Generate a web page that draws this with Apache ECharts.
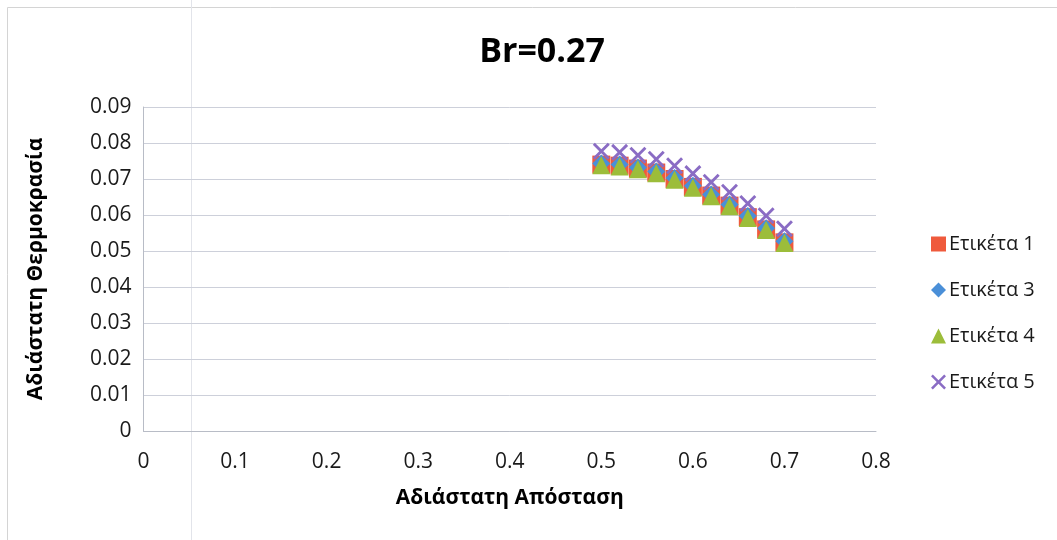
<!DOCTYPE html>
<html>
<head>
<meta charset="utf-8">
<title>Br=0.27</title>
<script src="https://cdn.jsdelivr.net/npm/echarts@6/dist/echarts.min.js"></script>
<style>
  html, body { margin: 0; padding: 0; background: #fff; }
  #chart { width: 1057px; height: 540px; }
</style>
</head>
<body>
<div id="chart"></div>
<script>
// Dimensionless distance (x) and the four labelled temperature profiles
const xValues = [0.50, 0.52, 0.54, 0.56, 0.58, 0.60, 0.62, 0.64, 0.66, 0.68, 0.70];
const label1 = [0.0740, 0.0737, 0.0729, 0.0718, 0.0700, 0.0678, 0.0654, 0.0626, 0.0594, 0.0560, 0.0524];
const label3 = [0.0743, 0.0740, 0.0732, 0.0721, 0.0703, 0.0681, 0.0657, 0.0629, 0.0597, 0.0563, 0.0527];
const label4 = [0.0738, 0.0735, 0.0727, 0.0716, 0.0698, 0.0676, 0.0652, 0.0624, 0.0592, 0.0558, 0.0522];
const label5 = [0.0777, 0.0774, 0.0766, 0.0755, 0.0737, 0.0715, 0.0691, 0.0663, 0.0632, 0.0598, 0.0562];

const seriesNames = ['Ετικέτα 1', 'Ετικέτα 3', 'Ετικέτα 4', 'Ετικέτα 5'];
const titleText = 'Br=0.27';
const xAxisTitle = 'Αδιάστατη Απόσταση';
const yAxisTitle = 'Αδιάστατη Θερμοκρασία';

const FONT = '"Open Sans", "Noto Sans", "DejaVu Sans", sans-serif';
const crossPath = 'path://M0,1.2L1.2,0L5,3.8L8.8,0L10,1.2L6.2,5L10,8.8L8.8,10L5,6.2L1.2,10L0,8.8L3.8,5Z';

function pairs(ys) { return xValues.map((x, i) => [x, ys[i]]); }

const chart = echarts.init(document.getElementById('chart'), null, { renderer: 'canvas' });

chart.setOption({
  animation: false,
  backgroundColor: '#ffffff',
  title: {
    text: titleText,
    left: 537,
    top: 30,
    textAlign: 'center',
    textStyle: { fontFamily: FONT, fontSize: 34, fontWeight: 'bold', color: '#000' }
  },
  graphic: [
    { type: 'rect', silent: true, z: -10,
      shape: { x: 7.5, y: 7.5, width: 1070, height: 560 },
      style: { fill: 'none', stroke: '#d4d4d4', lineWidth: 1 } },
    { type: 'line', silent: true, z: -10,
      shape: { x1: 191.5, y1: 0, x2: 191.5, y2: 540 },
      style: { stroke: '#e2e4ea', lineWidth: 1 } }
  ],
  legend: {
    orient: 'vertical',
    left: 926,
    top: 229,
    itemWidth: 15,
    itemHeight: 15,
    itemGap: 26,
    data: seriesNames,
    textStyle: { fontFamily: FONT, fontSize: 20, color: '#1a1a1a', padding: [0, 0, 0, -2] }
  },
  grid: { left: 143.5, right: 181, top: 107, bottom: 109, containLabel: false },
  xAxis: {
    type: 'value',
    min: 0, max: 0.8, interval: 0.1,
    name: xAxisTitle,
    nameLocation: 'middle',
    nameGap: 57,
    nameTextStyle: { fontFamily: FONT, fontSize: 21, fontWeight: 'bold', color: '#000' },
    axisLine: { show: true, lineStyle: { color: '#b8bcc6', width: 1 } },
    axisTick: { show: false },
    splitLine: { show: false },
    axisLabel: {
      margin: 21,
      fontFamily: FONT, fontSize: 21, color: '#1a1a1a',
      formatter: v => (v === 0 ? '0' : v.toFixed(1))
    }
  },
  yAxis: {
    type: 'value',
    min: 0, max: 0.09, interval: 0.01,
    name: yAxisTitle,
    nameLocation: 'middle',
    nameGap: 97,
    nameTextStyle: { fontFamily: FONT, fontSize: 21, fontWeight: 'bold', color: '#000' },
    axisLine: { show: true, lineStyle: { color: '#b8bcc6', width: 1 } },
    axisTick: { show: false },
    splitLine: { show: true, lineStyle: { color: '#cdd0da', width: 1 } },
    axisLabel: {
      margin: 12,
      fontFamily: FONT, fontSize: 21, color: '#1a1a1a',
      formatter: v => (v === 0 ? '0' : v.toFixed(2))
    }
  },
  series: [
    { name: seriesNames[0], type: 'scatter', data: pairs(label1),
      symbol: 'rect', symbolSize: 18, itemStyle: { color: '#ef5a3c', opacity: 1 } },
    { name: seriesNames[1], type: 'scatter', data: pairs(label3),
      symbol: 'diamond', symbolSize: 18, itemStyle: { color: '#4a8fd8', opacity: 1 } },
    { name: seriesNames[2], type: 'scatter', data: pairs(label4),
      symbol: 'triangle', symbolSize: 18, itemStyle: { color: '#9cbd3a', opacity: 1 } },
    { name: seriesNames[3], type: 'scatter', data: pairs(label5),
      symbol: crossPath, symbolSize: 17, itemStyle: { color: '#8a6cc4', opacity: 1 } }
  ]
});
</script>
</body>
</html>
